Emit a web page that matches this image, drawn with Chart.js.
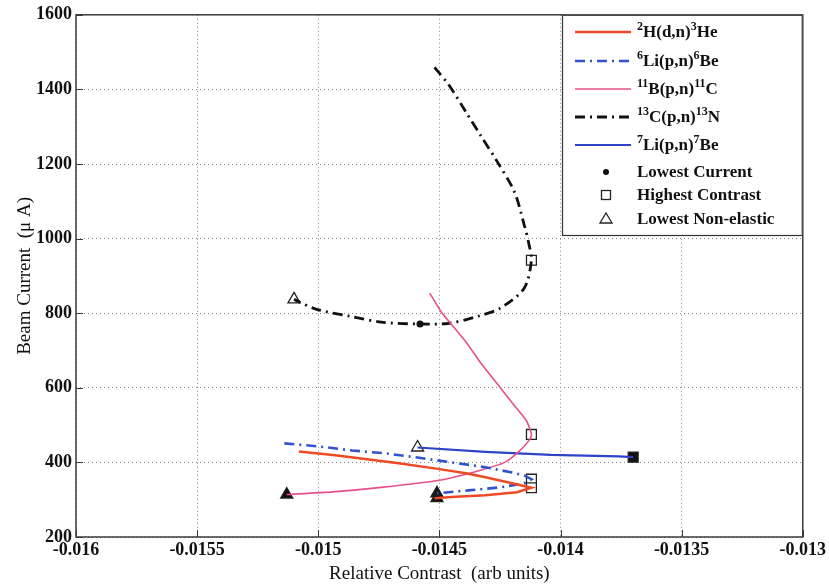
<!DOCTYPE html>
<html lang="en">
<head>
<meta charset="UTF-8">
<title>Beam Current vs Relative Contrast</title>
<script src="https://cdn.jsdelivr.net/npm/chart.js"></script>
<style>
    html, body { margin: 0; padding: 0; background: #fff; }
    #wrap { width: 829px; height: 587px; }
</style>
</head>
<body>
<div id="wrap"><canvas id="contrastChart" width="829" height="587"></canvas></div>
<script>
// axis ticks
const xTicks = [-0.016, -0.0155, -0.015, -0.0145, -0.014, -0.0135, -0.013];
const xTickLabels = ['-0.016', '-0.0155', '-0.015', '-0.0145', '-0.014', '-0.0135', '-0.013'];
const yTicks = [200, 400, 600, 800, 1000, 1200, 1400, 1600];
const yTickLabels = ['200', '400', '600', '800', '1000', '1200', '1400', '1600'];

// 2H(d,n)3He
const h2X = [-0.01508, -0.01493, -0.01479, -0.01466, -0.01452, -0.01439, -0.01431, -0.01420, -0.01412, -0.01418, -0.01431, -0.01445, -0.01452];
const h2Y = [429, 419, 408, 397, 384, 371, 360, 344, 332, 320, 312, 307, 304];

// 6Li(p,n)6Be
const li6X = [-0.01514, -0.01500, -0.01486, -0.01472, -0.01459, -0.01445, -0.01431, -0.01420, -0.01415, -0.01412, -0.01415, -0.01425, -0.01438, -0.01451];
const li6Y = [451, 443, 432, 424, 413, 400, 387, 373, 365, 355, 344, 333, 325, 317];

// 11B(p,n)11C
const b11X = [-0.01454, -0.01449, -0.01445, -0.01439, -0.01433, -0.01426, -0.01419, -0.01414, -0.01412, -0.01413, -0.01417, -0.01423, -0.01433, -0.01450, -0.01474, -0.01494, -0.01513];
const b11Y = [854, 801, 770, 723, 667, 610, 552, 511, 475, 459, 430, 400, 379, 352, 333, 321, 314];

// 13C(p,n)13N
const c13X = [-0.01452, -0.01446, -0.01439, -0.01433, -0.01426, -0.01419, -0.01415, -0.01413, -0.01412, -0.01415, -0.01425, -0.01434, -0.01446, -0.01458, -0.01474, -0.01487, -0.01501, -0.01510];
const c13Y = [1459, 1411, 1339, 1277, 1205, 1125, 1037, 984, 942, 867, 813, 792, 773, 771, 776, 792, 811, 837];

// 7Li(p,n)7Be
const li7X = [-0.01459, -0.01431, -0.01404, -0.01376, -0.01370];
const li7Y = [440, 428, 420, 416, 414];

// operating points
const lowCurrentX = [-0.01458, -0.01370];
const lowCurrentY = [771, 414];
const highContrastX = [-0.01412, -0.01412, -0.01412, -0.01412, -0.01370];
const highContrastY = [942, 475, 355, 332, 414];
const highContrastFill = ['#ffffff', '#ffffff', '#ffffff', '#ffffff', '#111111'];
const lowNonElasticX = [-0.01510, -0.01459, -0.01513, -0.01451, -0.01451];
const lowNonElasticY = [837, 440, 314, 317, 304];
const lowNonElasticFill = ['#ffffff', '#ffffff', '#111111', '#111111', '#111111'];

const toPoints = (xs, ys) => xs.map((x, i) => ({ x: x, y: ys[i] }));

const dashDot = [10, 5, 2, 5];
const serif = '"Liberation Serif", "Times New Roman", serif';

const curves = [
    { label: '^2H(d,n)^3He', xs: h2X, ys: h2Y, color: '#ef4a26', width: 2.5, dash: [], tension: 0 },
    { label: '^6Li(p,n)^6Be', xs: li6X, ys: li6Y, color: '#3152cf', width: 2.6, dash: dashDot, tension: 0 },
    { label: '^11B(p,n)^11C', xs: b11X, ys: b11Y, color: '#e8508c', width: 1.6, dash: [], tension: 0.2 },
    { label: '^13C(p,n)^13N', xs: c13X, ys: c13Y, color: '#111111', width: 2.8, dash: dashDot, tension: 0.3 },
    { label: '^7Li(p,n)^7Be', xs: li7X, ys: li7Y, color: '#2f44c4', width: 2.2, dash: [], tension: 0 }
];

const datasets = curves.map(c => ({
    label: c.label,
    data: toPoints(c.xs, c.ys),
    showLine: true,
    borderColor: c.color,
    borderWidth: c.width,
    borderDash: c.dash,
    tension: c.tension,
    pointRadius: 0,
    fill: false
}));

datasets.push({
    label: 'Highest Contrast',
    data: toPoints(highContrastX, highContrastY),
    pointStyle: 'rect',
    pointRadius: 7,
    pointBorderWidth: 1.3,
    pointBorderColor: '#222',
    pointBackgroundColor: highContrastFill
});
datasets.push({
    label: 'Lowest Non-elastic',
    data: toPoints(lowNonElasticX, lowNonElasticY),
    pointStyle: 'triangle',
    pointRadius: 7,
    pointBorderWidth: 1.3,
    pointBorderColor: '#222',
    pointBackgroundColor: lowNonElasticFill
});
datasets.push({
    label: 'Lowest Current',
    data: toPoints(lowCurrentX, lowCurrentY),
    pointStyle: 'circle',
    pointRadius: 3.5,
    pointBorderWidth: 0,
    pointBackgroundColor: '#111'
});

// draw "^2H" style labels with raised digits
function drawRich(ctx, text, x, y) {
    const parts = text.match(/\^\d+|[^^]+/g);
    parts.forEach(p => {
        if (p[0] === '^') {
            ctx.font = 'bold 12px ' + serif;
            ctx.fillText(p.slice(1), x, y - 6);
            x += ctx.measureText(p.slice(1)).width;
        } else {
            ctx.font = 'bold 17px ' + serif;
            ctx.fillText(p, x, y);
            x += ctx.measureText(p).width;
        }
    });
}

// plot frame with inward tick marks
const framePlugin = {
    id: 'frame',
    beforeDatasetsDraw(chart) {
        const { ctx, chartArea: a, scales } = chart;
        ctx.save();
        ctx.strokeStyle = '#3a3a3a';
        ctx.lineWidth = 1.5;
        ctx.strokeRect(a.left, a.top, a.right - a.left, a.bottom - a.top);
        ctx.lineWidth = 1;
        ctx.beginPath();
        xTicks.forEach(v => {
            const px = Math.round(scales.x.getPixelForValue(v)) + 0.5;
            ctx.moveTo(px, a.bottom); ctx.lineTo(px, a.bottom - 7);
        });
        yTicks.forEach(v => {
            const py = Math.round(scales.y.getPixelForValue(v)) + 0.5;
            ctx.moveTo(a.left, py); ctx.lineTo(a.left + 7, py);
        });
        ctx.stroke();
        ctx.restore();
    }
};

// boxed legend in the top right corner of the plot
const legendPlugin = {
    id: 'boxLegend',
    afterDraw(chart) {
        const { ctx, chartArea: a } = chart;
        const boxL = 562, boxT = a.top, boxR = a.right, boxB = 236;
        ctx.save();
        ctx.fillStyle = '#fff';
        ctx.fillRect(boxL, boxT, boxR - boxL, boxB - boxT);
        ctx.strokeStyle = '#333';
        ctx.lineWidth = 1.2;
        ctx.strokeRect(boxL + 0.5, boxT + 0.5, boxR - boxL - 1, boxB - boxT - 1);

        const rowY = [32, 61, 89, 117, 145];
        ctx.textBaseline = 'middle';
        ctx.textAlign = 'left';
        curves.forEach((c, i) => {
            ctx.strokeStyle = c.color;
            ctx.lineWidth = c.width;
            ctx.setLineDash(c.dash);
            ctx.beginPath();
            ctx.moveTo(575, rowY[i]);
            ctx.lineTo(631, rowY[i]);
            ctx.stroke();
            ctx.setLineDash([]);
            ctx.fillStyle = '#111';
            drawRich(ctx, c.label, 637, rowY[i] + 1);
        });

        const mx = 606;
        // Lowest Current
        ctx.fillStyle = '#111';
        ctx.beginPath();
        ctx.arc(mx, 172, 3, 0, Math.PI * 2);
        ctx.fill();
        // Highest Contrast
        ctx.strokeStyle = '#222';
        ctx.lineWidth = 1.3;
        ctx.strokeRect(mx - 4.5, 195 - 4.5, 9, 9);
        // Lowest Non-elastic
        ctx.beginPath();
        ctx.moveTo(mx, 213);
        ctx.lineTo(mx + 6, 223);
        ctx.lineTo(mx - 6, 223);
        ctx.closePath();
        ctx.stroke();

        ctx.fillStyle = '#111';
        ctx.font = 'bold 17px ' + serif;
        ctx.fillText('Lowest Current', 637, 173);
        ctx.fillText('Highest Contrast', 637, 196);
        ctx.fillText('Lowest Non-elastic', 637, 220);
        ctx.restore();
    }
};

const tickFont = { family: serif, size: 18, weight: 'bold' };
const titleFont = { family: serif, size: 19, weight: 'normal' };

new Chart(document.getElementById('contrastChart').getContext('2d'), {
    type: 'scatter',
    data: { datasets: datasets },
    options: {
        responsive: false,
        devicePixelRatio: 1,
        animation: false,
        layout: { padding: { left: 0, right: 23, top: 12, bottom: 0 } },
        plugins: { legend: { display: false }, tooltip: { enabled: false } },
        scales: {
            x: {
                type: 'linear',
                min: -0.016,
                max: -0.013,
                afterBuildTicks: s => { s.ticks = xTicks.map(v => ({ value: v })); },
                afterFit: s => { s.height = 50; },
                ticks: {
                    callback: (v, i) => xTickLabels[i],
                    font: tickFont,
                    color: '#111',
                    padding: 3,
                    maxRotation: 0,
                    autoSkip: false
                },
                grid: { color: '#8a8a8a', lineWidth: 1, drawTicks: false },
                border: { display: false, dash: [1, 3] },
                title: { display: true, text: 'Relative Contrast  (arb units)', font: titleFont, color: '#111', padding: { top: 0, bottom: 2 } }
            },
            y: {
                type: 'linear',
                min: 200,
                max: 1600,
                afterBuildTicks: s => { s.ticks = yTicks.map(v => ({ value: v })); },
                afterFit: s => { s.width = 76; },
                ticks: {
                    callback: (v, i) => yTickLabels[i],
                    font: tickFont,
                    color: '#111',
                    padding: 4,
                    autoSkip: false
                },
                grid: { color: '#8a8a8a', lineWidth: 1, drawTicks: false },
                border: { display: false, dash: [1, 3] },
                title: { display: true, text: 'Beam Current  (\u03bc A)', font: titleFont, color: '#111', padding: { top: 14, bottom: 0 } }
            }
        }
    },
    plugins: [framePlugin, legendPlugin]
});
</script>
</body>
</html>
